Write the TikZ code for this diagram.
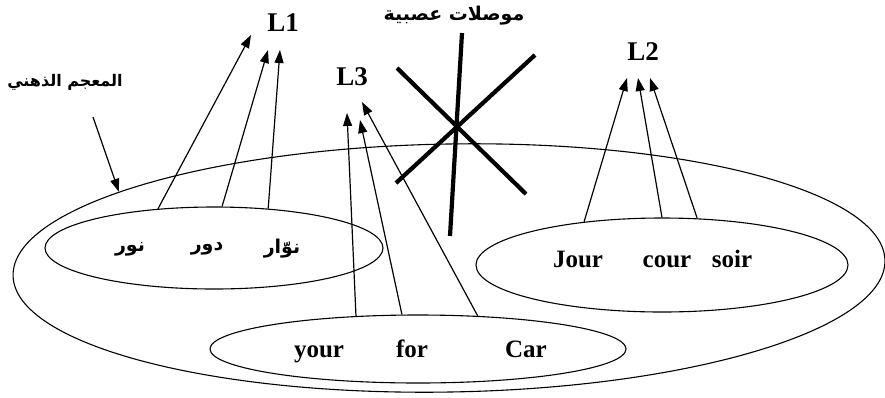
\documentclass[tikz,border=0pt]{standalone}
\usepackage{fontspec}
\setmainfont{Liberation Serif}
\newfontfamily\arabicfont[Script=Arabic, BoldFont={DejaVu Sans Bold}]{DejaVu Sans}
\TeXXeTstate=1
\usetikzlibrary{
  arrows.meta,
  shapes.geometric
}
\tikzset{
  setbox/.style={draw, ellipse, line width=1.1pt, inner sep=0pt},
  latword/.style={font=\fontsize{25}{28}\selectfont\bfseries, anchor=base},
  arword/.style={font=\fontsize{19}{22}\selectfont\arabicfont\bfseries},
  artitle/.style={font=\fontsize{16}{20}\selectfont\arabicfont\bfseries},
  lvl/.style={font=\fontsize{27}{30}\selectfont\bfseries, anchor=base},
  arr/.style={-{Triangle[length=13pt,width=9pt]}, line width=1.2pt},
  nerve/.style={line width=4.2pt},
}
\newcommand{\artxt}[1]{\beginR #1\endR}

\begin{document}
\begin{tikzpicture}[x=1pt, y=-1pt]
  \useasboundingbox (0,0) rectangle (885,397);

  % mental lexicon
  \node[setbox, minimum width=872pt, minimum height=248pt, rotate=1.0]
    (lexicon) at (449,268) {};
  \node[artitle] (mental) at (65,82) {\artxt{المعجم الذهني}};
  \coordinate (mtail) at (93,117);
  \draw[arr] (mtail) -- (lexicon.166);

  % the three sub-lexicons
  \node[setbox, minimum width=338pt, minimum height=82pt] (arset) at (214,248) {};
  \node[setbox, minimum width=416pt, minimum height=68pt] (enset) at (418,349) {};
  \node[setbox, minimum width=372pt, minimum height=94pt] (frset) at (662,265) {};

  % words
  \node[arword] (nur) at (130,249) {\artxt{نور}};
  \node[arword] (dur) at (207,249) {\artxt{دور}};
  \node[arword] (nuwwar) at (282,249) {\artxt{نوّار}};
  \node[latword] (your) at (319,357) {your};
  \node[latword] (for) at (412,357) {for};
  \node[latword] (car) at (526,357) {Car};
  \node[latword] (jour) at (578,267) {Jour};
  \node[latword] (cour) at (667,267) {cour};
  \node[latword] (soir) at (732,267) {soir};

  % languages
  \node[lvl] (L1) at (283,31) {L1};
  \node[lvl] (L3) at (352,85) {L3};
  \node[lvl] (L2) at (643,60) {L2};
  \coordinate (l1a) at (251,35);
  \coordinate (l1b) at (268,50);
  \coordinate (l1c) at (280,50);
  \coordinate (l3a) at (347,113);
  \coordinate (l3b) at (360,120);
  \coordinate (l3c) at (362,102);
  \coordinate (l2a) at (627,78);
  \coordinate (l2b) at (638,78);
  \coordinate (l2c) at (650,78);

  \draw[arr] (arset.145) -- (l1a);
  \draw[arr] (arset.79) -- (l1b);
  \draw[arr] (arset.36) -- (l1c);
  \draw[arr] (enset.152) -- (l3a);
  \draw[arr] (enset.115) -- (l3b);
  \draw[arr] (enset.29) -- (l3c);
  \draw[arr] (frset.151) -- (l2a);
  \draw[arr] (frset.90) -- (l2b);
  \draw[arr] (frset.53) -- (l2c);

  % neural connections (crossed out)
  \node[arword] (nerves) at (454,16) {\artxt{موصلات عصبية}};
  \draw[nerve] (397,68) -- (526,194);
  \draw[nerve] (535,55) -- (396,183);
  \draw[nerve] (462,33) -- (450,236);
\end{tikzpicture}
\end{document}
